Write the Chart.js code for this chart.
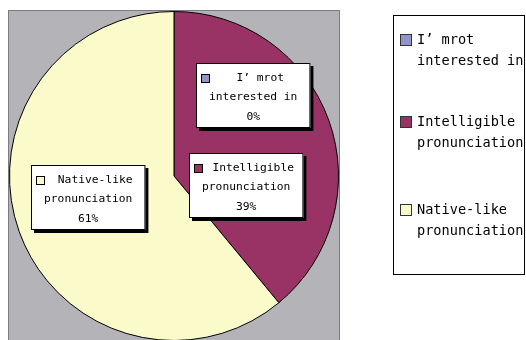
<!DOCTYPE html>
<html lang="en">
<head>
    <meta charset="UTF-8">
    <title>Pronunciation goals</title>
    <script src="https://cdn.jsdelivr.net/npm/chart.js"></script>
    <style>
        html, body { margin: 0; padding: 0; background: #fff; overflow: hidden; }
        .wrap { position: relative; width: 526px; height: 346px; }
    </style>
</head>
<body>
    <div class="wrap">
        <canvas id="pieChart" width="526" height="346"></canvas>
    </div>

    <script>
        // answers and their share of responses (%)
        const categories = [
            ["I’ mrot", "interested in"],
            ["Intelligible", "pronunciation"],
            ["Native-like", "pronunciation"]
        ];
        const percents = [0, 39, 61];
        const sliceColors = ["#9494cc", "#993366", "#fafaca"];

        const labelFont = "11.3px 'DejaVu Sans Mono', monospace";
        const legendFont = "13.6px 'DejaVu Sans Mono', monospace";

        // where each value box sits, as a fraction of the radius from the centre
        const boxOffsets = [[0.48, -0.49], [0.44, 0.055], [-0.52, 0.13]];

        // grey plot area behind the pie
        const plotBackground = {
            id: "plotBackground",
            beforeDraw(chart) {
                const ctx = chart.ctx;
                ctx.save();
                ctx.fillStyle = "#b4b4b8";
                ctx.fillRect(8, 10, 332, 340);
                ctx.strokeStyle = "#7c7c80";
                ctx.lineWidth = 1;
                ctx.strokeRect(8.5, 10.5, 331, 340);
                ctx.restore();
            }
        };

        // white boxes with a drop shadow: marker, name and percentage
        const valueBoxes = {
            id: "valueBoxes",
            afterDatasetsDraw(chart) {
                const ctx = chart.ctx;
                const arcs = chart.getDatasetMeta(0).data;
                const cx = arcs[0].x, cy = arcs[0].y, r = arcs[0].outerRadius;
                ctx.save();
                ctx.font = labelFont;
                ctx.textAlign = "center";
                ctx.textBaseline = "middle";
                categories.forEach((lines, i) => {
                    const text = lines.concat([percents[i] + "%"]);
                    let w = 0;
                    text.forEach(t => { w = Math.max(w, ctx.measureText(t).width); });
                    w += 26;
                    const h = 65;
                    const bx = Math.round(cx + boxOffsets[i][0] * r - w / 2);
                    const by = Math.round(cy + boxOffsets[i][1] * r - h / 2);
                    ctx.fillStyle = "#000";
                    ctx.fillRect(bx + 3, by + 3, w, h);
                    ctx.fillStyle = "#fff";
                    ctx.fillRect(bx, by, w, h);
                    ctx.strokeStyle = "#000";
                    ctx.lineWidth = 1;
                    ctx.strokeRect(bx + 0.5, by + 0.5, w - 1, h - 1);
                    // colour marker beside the first line
                    ctx.fillStyle = sliceColors[i];
                    ctx.fillRect(bx + 5, by + 11, 9, 9);
                    ctx.strokeRect(bx + 5.5, by + 11.5, 8, 8);
                    ctx.fillStyle = "#000";
                    text.forEach((t, k) => {
                        const dx = k === 0 ? 7 : 0;
                        ctx.fillText(t, bx + w / 2 + dx, by + 15 + k * 19.5);
                    });
                });
                ctx.restore();
            }
        };

        // legend panel to the right
        const sideLegend = {
            id: "sideLegend",
            afterDraw(chart) {
                const ctx = chart.ctx;
                ctx.save();
                ctx.strokeStyle = "#000";
                ctx.lineWidth = 1;
                ctx.strokeRect(393.5, 15.5, 131, 259);
                ctx.font = legendFont;
                ctx.textAlign = "left";
                ctx.textBaseline = "middle";
                const rows = [40, 122, 210];
                categories.forEach((lines, i) => {
                    const y = rows[i];
                    ctx.fillStyle = sliceColors[i];
                    ctx.fillRect(400, y - 6, 12, 12);
                    ctx.strokeStyle = "#333";
                    ctx.strokeRect(400.5, y - 5.5, 11, 11);
                    ctx.fillStyle = "#000";
                    lines.forEach((t, k) => {
                        ctx.fillText(t, 417, y + k * 21);
                    });
                });
                ctx.restore();
            }
        };

        new Chart(document.getElementById("pieChart"), {
            type: "pie",
            data: {
                labels: categories,
                datasets: [{
                    data: percents,
                    backgroundColor: sliceColors,
                    borderColor: "#000",
                    borderWidth: 1
                }]
            },
            options: {
                responsive: false,
                animation: false,
                layout: { padding: { left: 9, top: 11, right: 187, bottom: 5 } },
                plugins: {
                    legend: { display: false },
                    tooltip: { enabled: false }
                }
            },
            plugins: [plotBackground, valueBoxes, sideLegend]
        });
    </script>
</body>
</html>
